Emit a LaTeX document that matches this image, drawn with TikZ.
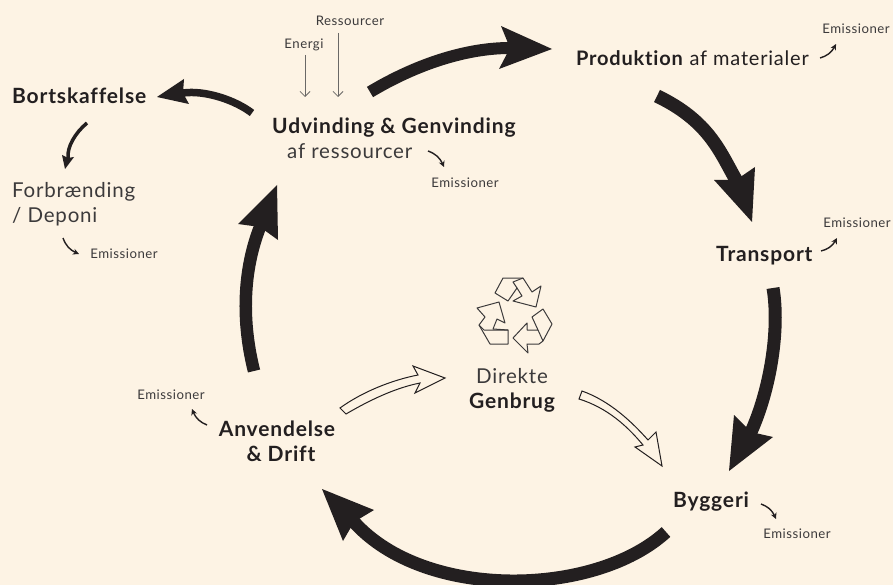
\documentclass[tikz,border=0pt]{standalone}
\usepackage{fontspec}
\setmainfont{Lato}[LetterSpace=4,Ligatures=NoCommon]
\usetikzlibrary{arrows.meta,bending,calc}
\definecolor{bgc}{HTML}{FDF3E4}
\definecolor{ink}{HTML}{231F20}
\definecolor{soft}{HTML}{3C3A3B}
\definecolor{thinc}{HTML}{6A6866}
\tikzset{
  big/.style={draw=ink,line width=#1,line cap=butt},
  big/.default=13,
  head/.style={fill=ink,draw=none},
  bold lbl/.style={font=\fontsize{21}{23}\selectfont\bfseries,text=ink,inner sep=0pt},
  reg lbl/.style={font=\fontsize{20.5}{23}\selectfont,text=soft,inner sep=0pt},
  small lbl/.style={font=\fontsize{13.2}{15}\selectfont,text=soft,inner sep=0pt},
  emi/.style={draw=ink,line width=1.4,-{Stealth[length=6,width=6]}},
  thin arrow/.style={draw=thinc,line width=0.8,-{Straight Barb[length=5,width=10]}},
  hollow/.style={draw=ink,line width=1,fill=bgc,line join=miter},
  icon/.style={draw=soft,line width=1,line join=round}
}
\begin{document}
\begin{tikzpicture}[x=1pt,y=-1pt]
\path[fill=bgc] (0,0) rectangle (893,585);
\useasboundingbox (0,0) rectangle (893,585);
% labels
\node[bold lbl,anchor=west] (bort) at (12,96) {Bortskaffelse};
\node[reg lbl,anchor=west] (forb) at (12,192) {Forbrænding};
\node[reg lbl,anchor=west] (depo) at (12,217) {/ Deponi};
\node[bold lbl,anchor=west] (udv) at (272,128) {Udvinding \& Genvinding};
\node[reg lbl,anchor=west] (afr) at (287,151) {af ressourcer};
\node[anchor=west,inner sep=0pt,font=\fontsize{20}{23}\selectfont,text=ink] (prod) at (576,58) {\textbf{Produktion} af materialer};
\node[bold lbl,anchor=west] (trans) at (716,256) {Transport};
\node[bold lbl,anchor=west] (bygg) at (673,502) {Byggeri};
\node[bold lbl] (anv) at (277,429) {Anvendelse};
\node[bold lbl] (dri) at (281,454) {\& Drift};
\node[reg lbl] (dir) at (512,376) {Direkte};
\node[bold lbl] (gen) at (512,403) {Genbrug};
\node[small lbl] (res) at (350,21) {Ressourcer};
\node[small lbl] (ene) at (304,45) {Energi};
\node[small lbl] (e1) at (856,29) {Emissioner};
\node[small lbl] (e2) at (857,223) {Emissioner};
\node[small lbl] (e3) at (465,183) {Emissioner};
\node[small lbl] (e4) at (124,254) {Emissioner};
\node[small lbl] (e5) at (797,534) {Emissioner};
\node[small lbl] (e6) at (171,395) {Emissioner};
% big arrow ends
\coordinate (a1) at (370,92); \coordinate (a2) at (510,48); \coordinate (a3) at (552,49);
\coordinate (b1) at (657,96); \coordinate (b2) at (736,180); \coordinate (b3) at (752,222);
\coordinate (c1) at (773,288); \coordinate (c2) at (751,432); \coordinate (c3) at (729,471);
\coordinate (d1) at (666,532); \coordinate (d2) at (354,522); \coordinate (d3) at (322,489);
\coordinate (f1) at (254,371); \coordinate (f2) at (260,227); \coordinate (f3) at (277,185);
\coordinate (g1) at (252,113); \coordinate (g2) at (183,93); \coordinate (g3) at (157,97);
\coordinate (h1) at (87,123); \coordinate (h2) at (68,158); \coordinate (h3) at (65,169);
\draw[big=12] (a1) .. controls (415,65) and (465,48) .. (a2) -- ($(a2)!0.3!(a3)$);
\fill[head] (a3) -- (501,26) -- (a2) -- (499,69) -- cycle;
\draw[big=13.5] (b1) .. controls (709,121) and (720,152) .. (b2) -- ($(b2)!0.3!(b3)$);
\fill[head] (b3) -- (714,180) -- (b2) -- (755,167) -- cycle;
\draw[big=13] (c1) .. controls (780,330) and (770,390) .. (c2) -- ($(c2)!0.3!(c3)$);
\fill[head] (c3) -- (734,415) -- (c2) -- (773,437) -- cycle;
\draw[big=13] (d1) .. controls (595,597) and (425,601) .. (d2) -- ($(d2)!0.3!(d3)$);
\fill[head] (d3) -- (374,510) -- (d2) -- (343,541) -- cycle;
\draw[big=12.5] (f1) .. controls (240,315) and (245,265) .. (f2) -- ($(f2)!0.3!(f3)$);
\fill[head] (f3) -- (238,224) -- (f2) -- (278,240) -- cycle;
\draw[big=7.5] (g1) .. controls (235,100) and (205,90) .. (g2) -- ($(g2)!0.3!(g3)$);
\fill[head] (g3) -- (184,79) -- (g2) -- (189,104) -- cycle;
\draw[big=3.5] (h1) .. controls (75,133) and (67,147) .. (h2) -- ($(h2)!0.3!(h3)$);
\fill[head] (h3) -- (62,155) -- (h2) -- (74,157) -- cycle;
% thin inputs
\coordinate (t1) at (305,55); \coordinate (t2) at (305,97);
\coordinate (t3) at (338,33); \coordinate (t4) at (338,97);
\draw[thin arrow] (t1) -- (t2);
\draw[thin arrow] (t3) -- (t4);
% emission arrows
\draw[emi] (820,58) to[bend right=25] (836,44);
\draw[emi] (821,251) to[bend right=25] (837,238);
\draw[emi] (428,151) to[bend left=25] (444,167);
\draw[emi] (63,238) to[bend right=25] (79,254);
\draw[emi] (761,504) to[bend left=25] (776,519);
\draw[emi] (207,425) to[bend left=25] (192,409);
% hollow arrows
\path[hollow] (340,408) .. controls (362,392) and (392,380) .. (418,375)
  -- (413,366) -- (445,378) -- (415,393) -- (420,383)
  .. controls (395,388) and (370,400) .. (346,414) -- cycle;
\path[hollow] (582,391) .. controls (610,401) and (632,422) .. (648,440)
  -- (656,432) -- (662,466) -- (635,447) -- (643,445)
  .. controls (628,427) and (608,408) .. (579,399) -- cycle;
% recycling icon
\path[icon] (495,293) -- (503,278) -- (523,278) -- (532,292) -- (541,286) -- (536,307) -- (513,301) -- (522,296) -- (517,288) -- (508,301) -- cycle;
\path[icon] (517,288) -- (513,282) -- (523,278);
\path[icon] (543,309) -- (552,324) -- (543,341) -- (539,344) -- (527,344) -- (528,353) -- (513,338) -- (527,323) -- (527,330) -- (538,330) -- (532,317) -- cycle;
\path[icon] (538,330) -- (543,341);
\path[icon] (508,330) -- (508,344) -- (490,344) -- (479,325) -- (485,317) -- (477,308) -- (499,302) -- (505,323) -- (497,319) -- (493,329) -- cycle;
\path[icon] (479,325) -- (484,330) -- (508,330);
\end{tikzpicture}
\end{document}
